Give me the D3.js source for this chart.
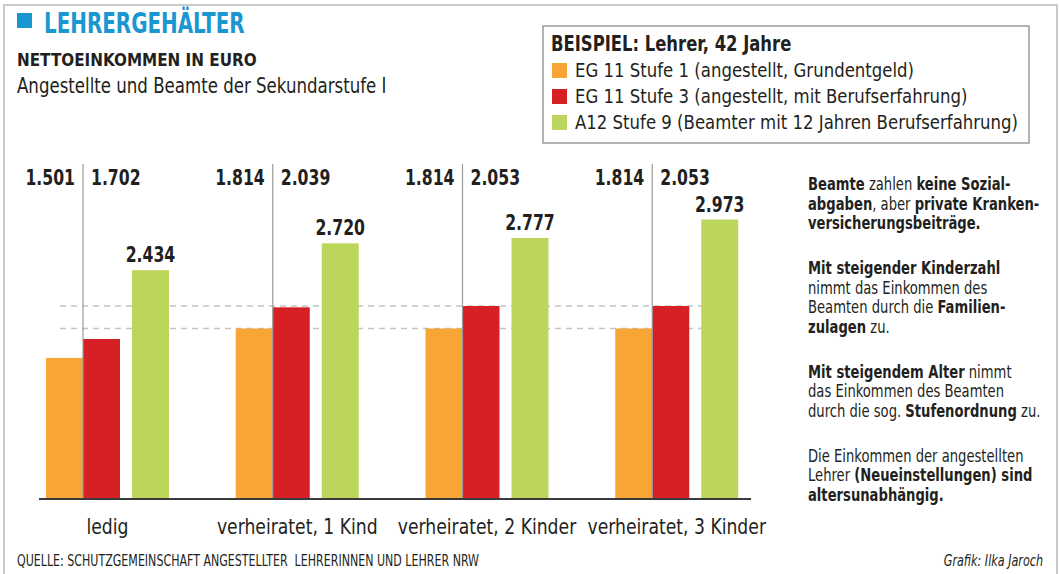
<!DOCTYPE html>
<html>
<head>
<meta charset="utf-8">
<script src="https://cdn.jsdelivr.net/npm/d3@7"></script>
<style>
  body { margin: 0; background: #fff; }
  svg { display: block; }
  text { font-family: "DejaVu Sans Condensed", "Liberation Sans Narrow", sans-serif; fill: #231f20; }
</style>
</head>
<body>
<svg id="chart" width="1059" height="574"></svg>
<script>
// data
var categories = ["ledig", "verheiratet, 1 Kind", "verheiratet, 2 Kinder", "verheiratet, 3 Kinder"];
var seriesNames = [
	"EG 11 Stufe 1 (angestellt, Grundentgeld)",
	"EG 11 Stufe 3 (angestellt, mit Berufserfahrung)",
	"A12 Stufe 9 (Beamter mit 12 Jahren Berufserfahrung)"
];
var eg11Stufe1 = [1501, 1814, 1814, 1814];
var eg11Stufe3 = [1702, 2039, 2053, 2053];
var a12Stufe9 = [2434, 2720, 2777, 2973];
var refLines = [1814, 2053];
var colors = ["#f7a535", "#d71f26", "#bcd65c"];

var series = [eg11Stufe1, eg11Stufe3, a12Stufe9];

var de = d3.formatLocale({decimal: ",", thousands: ".", grouping: [3], currency: ["", " €"]});
var fmt = de.format(",d");

var svg = d3.select("#chart");

// text placed with a horizontal squeeze (condensed look)
function label(parent, x, y, k){
	return parent.append("text")
		.attr("transform", "translate(" + x + "," + y + ") scale(" + k + ",1)");
}

// frame
svg.append("rect")
	.attr("x", 4).attr("y", 5)
	.attr("width", 1053).attr("height", 580)
	.style("fill", "none")
	.style("stroke", "#c9c9c9")
	.style("stroke-width", 2);

// header
svg.append("rect")
	.attr("x", 17).attr("y", 13)
	.attr("width", 15).attr("height", 15)
	.style("fill", "#1a96d0");
label(svg, 44, 33, 0.79)
	.style("font-size", "28px")
	.style("font-weight", "bold")
	.style("fill", "#1a96d0")
	.text("LEHRERGEHÄLTER");
label(svg, 17, 66, 0.94)
	.style("font-size", "18px")
	.style("font-weight", "bold")
	.text("NETTOEINKOMMEN IN EURO");
label(svg, 17, 93, 0.88)
	.style("font-size", "21px")
	.text("Angestellte und Beamte der Sekundarstufe I");

// legend
var legend = svg.append("g").attr("transform", "translate(543,26)");
legend.append("rect")
	.attr("width", 486).attr("height", 117)
	.style("fill", "#fff")
	.style("stroke", "#9b9b9b")
	.style("stroke-width", 1.5);
label(legend, 8, 25, 0.83)
	.style("font-size", "22px")
	.style("font-weight", "bold")
	.text("BEISPIEL: Lehrer, 42 Jahre");
var items = legend.selectAll(".item")
	.data(seriesNames)
.enter().append("g")
	.attr("class", "item")
	.attr("transform", function(d, i){ return "translate(9," + (37 + i*26) + ")"; });
items.append("rect")
	.attr("width", 15).attr("height", 15)
	.style("fill", function(d, i){ return colors[i]; });
items.each(function(d){
	label(d3.select(this), 23, 14, 0.92)
		.style("font-size", "20px")
		.text(d);
});

// scales
var y = d3.scaleLinear().domain([0, 3000]).range([499, 217]);
var x0 = d3.scaleBand().domain(categories).range([46, 805]);
var barW = 37;
var offsets = [0, 37, 86];

var plot = svg.append("g");

// dashed reference lines
plot.selectAll(".ref")
	.data(refLines)
.enter().append("line")
	.attr("class", "ref")
	.attr("x1", 60).attr("x2", 703)
	.attr("y1", function(d){ return y(d); })
	.attr("y2", function(d){ return y(d); })
	.style("stroke", "#c4c4c4")
	.style("stroke-width", 1.5)
	.style("stroke-dasharray", "6,5");

// bars
series.forEach(function(vals, s){
	plot.selectAll(".bar" + s)
		.data(vals)
	.enter().append("rect")
		.attr("class", "bar" + s)
		.attr("x", function(d, i){ return x0(categories[i]) + offsets[s]; })
		.attr("y", function(d){ return y(d); })
		.attr("width", barW)
		.attr("height", function(d){ return y(0) - y(d); })
		.style("fill", colors[s]);
});

// separator lines between orange and red
plot.selectAll(".sep")
	.data(categories)
.enter().append("line")
	.attr("class", "sep")
	.attr("x1", function(d){ return x0(d) + offsets[1]; })
	.attr("x2", function(d){ return x0(d) + offsets[1]; })
	.attr("y1", 164).attr("y2", y(0))
	.style("stroke", "#9a9a9a")
	.style("stroke-width", 1.2);

// baseline
plot.append("line")
	.attr("x1", 39).attr("x2", 751)
	.attr("y1", y(0)).attr("y2", y(0))
	.style("stroke", "#3a3a3a")
	.style("stroke-width", 2);

// value labels
var lbl = plot.append("g").style("font-size", "21px").style("font-weight", "bold");
eg11Stufe1.forEach(function(d, i){
	label(lbl, x0(categories[i]) + offsets[1] - 8, 185, 0.83)
		.attr("text-anchor", "end")
		.text(fmt(d));
});
eg11Stufe3.forEach(function(d, i){
	label(lbl, x0(categories[i]) + offsets[1] + 8, 185, 0.83)
		.text(fmt(d));
});
a12Stufe9.forEach(function(d, i){
	label(lbl, x0(categories[i]) + offsets[2] + barW/2, y(d) - 8, 0.83)
		.attr("text-anchor", "middle")
		.text(fmt(d));
});

// category labels
categories.forEach(function(d){
	label(plot, x0(d) + (offsets[2] + barW)/2, 534, 0.87)
		.attr("text-anchor", "middle")
		.style("font-size", "22px")
		.text(d);
});

// side notes
var notes = [
	[[1,"Beamte"],[0," zahlen "],[1,"keine Sozial-"]],
	[[1,"abgaben"],[0,", aber "],[1,"private Kranken-"]],
	[[1,"versicherungsbeiträge."]],
	null,
	[[1,"Mit steigender Kinderzahl"]],
	[[0,"nimmt das Einkommen des"]],
	[[0,"Beamten durch die "],[1,"Familien-"]],
	[[1,"zulagen"],[0," zu."]],
	null,
	[[1,"Mit steigendem Alter"],[0," nimmt"]],
	[[0,"das Einkommen des Beamten"]],
	[[0,"durch die sog. "],[1,"Stufenordnung"],[0," zu."]],
	null,
	[[0,"Die Einkommen der angestellten"]],
	[[0,"Lehrer "],[1,"(Neueinstellungen) sind"]],
	[[1,"altersunabhängig."]]
];
var ny = 190;
notes.forEach(function(line){
	if (line === null) { ny += 25.5; return; }
	var t = label(svg, 808, ny, 0.86)
		.style("font-size", "17px");
	line.forEach(function(p){
		t.append("tspan")
			.style("font-weight", p[0] ? "bold" : "normal")
			.text(p[1]);
	});
	ny += 19.5;
});

// footer
label(svg, 17, 566, 0.82)
	.style("font-size", "15px")
	.style("white-space", "pre")
	.text("QUELLE: SCHUTZGEMEINSCHAFT ANGESTELLTER  LEHRERINNEN UND LEHRER NRW");
label(svg, 1043, 566, 0.83)
	.attr("text-anchor", "end")
	.style("font-size", "15px")
	.style("font-style", "italic")
	.text("Grafik: Ilka Jaroch");
</script>
</body>
</html>
